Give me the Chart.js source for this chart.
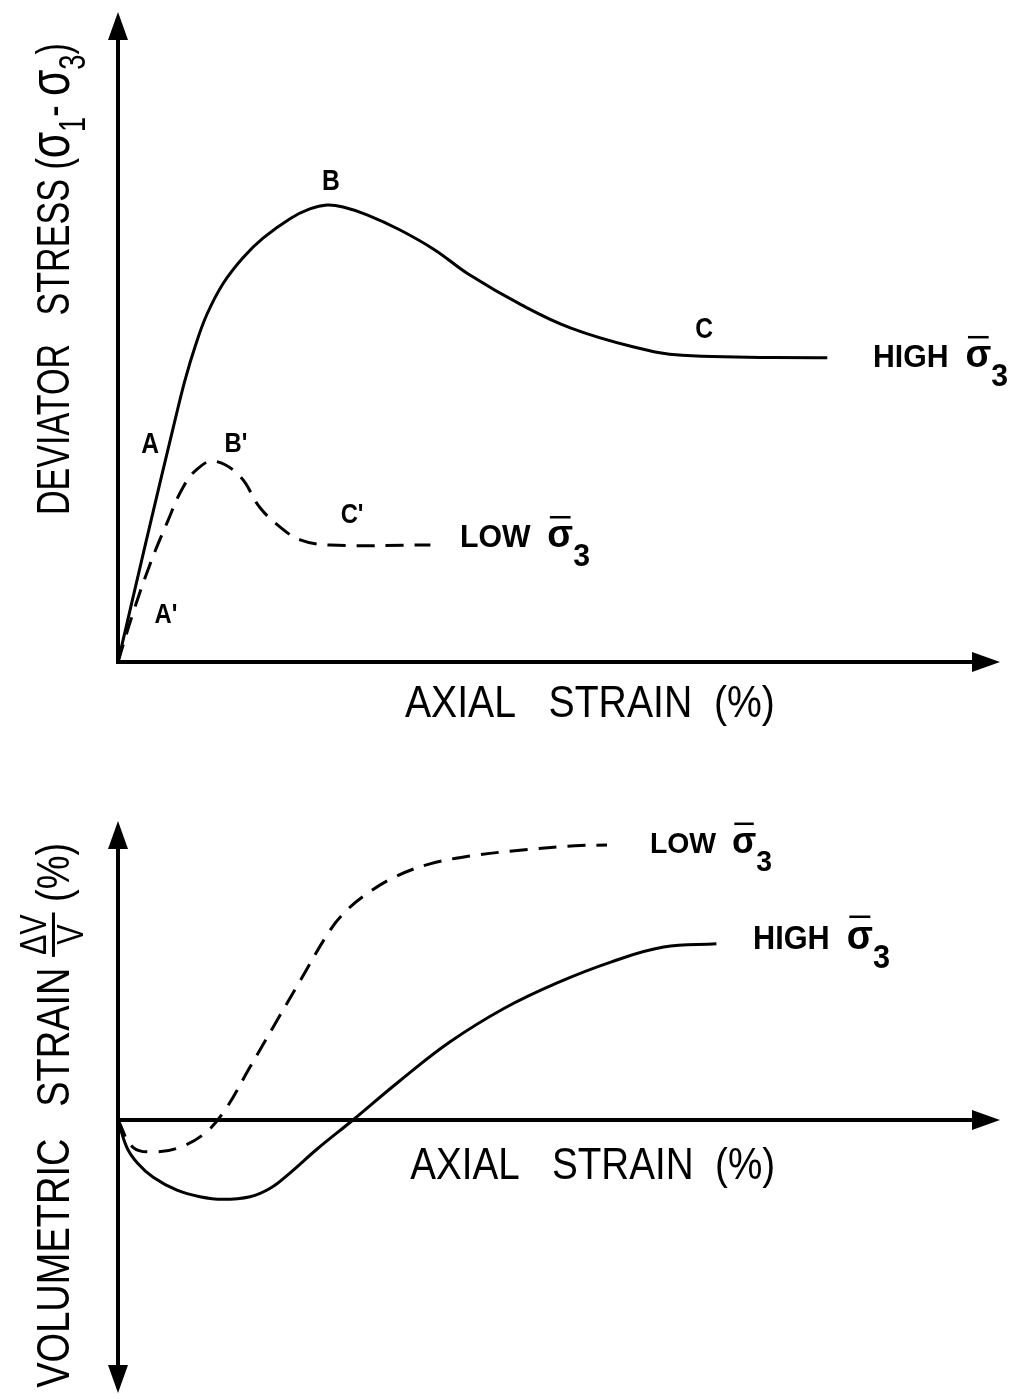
<!DOCTYPE html>
<html>
<head>
<meta charset="utf-8">
<script src="https://cdn.jsdelivr.net/npm/chart.js@4.4.0/dist/chart.umd.min.js"></script>
<style>
  html, body { margin: 0; padding: 0; background: #fff; }
  #wrap { position: relative; width: 1020px; height: 1399px; }
  canvas { position: absolute; left: 0; }
  #stressChart { top: 0; }
  #volChart { top: 740px; }
</style>
</head>
<body>
<div id="wrap">
  <canvas id="stressChart" width="1020" height="740"></canvas>
  <canvas id="volChart" width="1020" height="659"></canvas>
</div>
<script>
// deviator stress vs axial strain (schematic units)
const strainHigh = [0, 0.32, 0.648, 0.76, 0.88, 1.011, 1.193, 1.42, 1.648, 1.955, 2.18, 2.375, 2.557, 2.83, 3.2, 3.6, 3.98, 4.59, 5.14, 5.85, 6.41, 8.06];
const stressHigh = [0, 1.86, 3.72, 4.33, 4.87, 5.35, 5.82, 6.22, 6.52, 6.82, 6.97, 7.03, 7.00, 6.88, 6.65, 6.34, 5.97, 5.49, 5.14, 4.85, 4.72, 4.68];
const strainLow = [0, 0.17, 0.36, 0.557, 0.74, 0.91, 1.10, 1.39, 1.61, 1.84, 2.07, 2.41, 3.55];
const stressLow = [0, 0.75, 1.49, 2.14, 2.69, 2.98, 3.09, 2.85, 2.38, 2.08, 1.88, 1.80, 1.80];

// volumetric strain vs axial strain
const strainVolHigh = [0, 0.10, 0.22, 0.40, 0.67, 0.93, 1.19, 1.50, 1.73, 1.95, 2.26, 2.67, 3.20, 3.77, 4.39, 4.99, 5.60, 6.20, 6.80];
const volHigh = [0, -0.42, -0.66, -0.88, -1.08, -1.18, -1.22, -1.18, -1.05, -0.82, -0.45, 0, 0.60, 1.20, 1.72, 2.11, 2.43, 2.66, 2.71];
const strainVolLow = [0, 0.17, 0.42, 0.70, 0.99, 1.216, 1.50, 1.784, 2.068, 2.41, 2.58, 2.807, 3.148, 3.545, 4.00, 4.568, 5.193, 5.557];
const volLow = [0, -0.42, -0.49, -0.42, -0.20, 0.154, 0.815, 1.477, 2.138, 2.92, 3.20, 3.46, 3.74, 3.94, 4.06, 4.15, 4.22, 4.23];

const FONT = '"Liberation Sans", Arial, sans-serif';
const sig = (bar) => ({ t: 'σ', s: 1.25, bar: bar });

// annotations (anchor in data units)
const stressNotes = [
  { parts: [{ t: 'A' }], x: 0.364, y: 3.38, size: 29, align: 'center', sx: 0.85, bold: true },
  { parts: [{ t: 'B' }], x: 2.42, y: 7.42, size: 29, align: 'center', sx: 0.85, bold: true },
  { parts: [{ t: 'C' }], x: 6.66, y: 5.14, size: 29, align: 'center', sx: 0.85, bold: true },
  { parts: [{ t: "A'" }], x: 0.545, y: 0.755, size: 28, align: 'center', sx: 0.85, bold: true },
  { parts: [{ t: "B'" }], x: 1.34, y: 3.38, size: 28, align: 'center', sx: 0.85, bold: true },
  { parts: [{ t: "C'" }], x: 2.66, y: 2.29, size: 28, align: 'center', sx: 0.85, bold: true },
  { parts: [{ t: 'HIGH  ' }, sig(true), { t: '3', dy: 0.6 }], x: 8.58, y: 4.71, size: 31, w: 135, bold: true },
  { parts: [{ t: 'LOW  ' }, sig(true), { t: '3', dy: 0.6 }], x: 3.886, y: 1.94, size: 31, w: 130, bold: true },
  { parts: [{ t: 'AXIAL   STRAIN  (%)' }], x: 3.26, y: -0.6, size: 44, w: 370 },
  { parts: [{ t: 'DEVIATOR   STRESS (' }, sig(false), { t: '1', dy: 0.35, s: 0.8 }, { t: '- ' }, sig(false), { t: '3', dy: 0.35, s: 0.8 }, { t: ')' }],
    x: -0.557, y: 2.26, size: 46, w: 472, rot: true }
];
const volNotes = [
  { parts: [{ t: 'AXIAL   STRAIN  (%)' }], x: 3.32, y: -0.66, size: 44, w: 365 },
  { parts: [{ t: 'LOW  ' }, sig(true), { t: '3', dy: 0.6 }], x: 6.045, y: 4.28, size: 30, w: 122, bold: true },
  { parts: [{ t: 'HIGH  ' }, sig(true), { t: '3', dy: 0.6 }], x: 7.216, y: 2.82, size: 33, w: 137, bold: true },
  { parts: [{ t: 'VOLUMETRIC   STRAIN ' }, { frac: ['ΔV', 'V'] }, { t: ' (%)' }],
    x: -0.557, y: -4.12, size: 46, w: 545, rot: true }
];

function fontOf(size, bold) {
  return (bold ? 'bold ' : '') + size + 'px ' + FONT;
}

function partWidth(ctx, p, size, bold) {
  if (p.frac) {
    ctx.font = fontOf(size * 0.8, bold);
    return Math.max(ctx.measureText(p.frac[0]).width, ctx.measureText(p.frac[1]).width) + size * 0.1;
  }
  ctx.font = fontOf(size * (p.s || 1), bold);
  return ctx.measureText(p.t).width;
}

function drawParts(ctx, parts, size, bold) {
  let x = 0;
  for (const p of parts) {
    const w = partWidth(ctx, p, size, bold);
    if (p.frac) {
      ctx.textAlign = 'center';
      ctx.fillText(p.frac[0], x + w / 2, -0.5 * size);
      ctx.fillText(p.frac[1], x + w / 2, 0.3 * size);
      ctx.fillRect(x, -0.37 * size, w, 3);
      ctx.textAlign = 'left';
    } else {
      ctx.fillText(p.t, x, (p.dy || 0) * size);
      if (p.bar) ctx.fillRect(x + w * 0.1, -1.0 * size, w * 0.8, 2.5);
    }
    x += w;
  }
  return x;
}

function arrow(ctx, x, y, dir) {
  const L = 28, H = 10;
  ctx.beginPath();
  ctx.moveTo(x, y);
  if (dir === 'up') { ctx.lineTo(x - H, y + L); ctx.lineTo(x + H, y + L); }
  if (dir === 'down') { ctx.lineTo(x - H, y - L); ctx.lineTo(x + H, y - L); }
  if (dir === 'right') { ctx.lineTo(x - L, y - H); ctx.lineTo(x - L, y + H); }
  ctx.closePath();
  ctx.fill();
}

const sketch = {
  id: 'sketch',
  beforeDatasetsDraw(chart, args, opts) {
    const { ctx, chartArea: a, scales: { x, y } } = chart;
    const x0 = x.getPixelForValue(0), y0 = y.getPixelForValue(0);
    ctx.save();
    ctx.strokeStyle = '#000';
    ctx.fillStyle = '#000';
    ctx.lineWidth = 4;
    ctx.beginPath();
    ctx.moveTo(x0, opts.both ? a.bottom - 20 : y0 + 2);
    ctx.lineTo(x0, a.top + 20);
    ctx.moveTo(x0 - 2, y0);
    ctx.lineTo(a.right - 20, y0);
    ctx.stroke();
    arrow(ctx, x0, a.top, 'up');
    if (opts.both) arrow(ctx, x0, a.bottom, 'down');
    arrow(ctx, a.right + 2, y0, 'right');
    ctx.restore();
  },
  afterDatasetsDraw(chart, args, opts) {
    const { ctx, scales: { x, y } } = chart;
    ctx.save();
    ctx.fillStyle = '#000';
    ctx.textBaseline = 'alphabetic';
    ctx.textAlign = 'left';
    for (const n of opts.notes) {
      const px = x.getPixelForValue(n.x), py = y.getPixelForValue(n.y);
      let w = 0;
      for (const p of n.parts) w += partWidth(ctx, p, n.size, n.bold);
      const sx = n.w ? n.w / w : (n.sx || 1);
      ctx.save();
      if (n.rot) {
        ctx.translate(px, py);
        ctx.rotate(-Math.PI / 2);
      } else {
        const left = n.align === 'center' ? px - w * sx / 2 : px;
        ctx.translate(left, py + 0.358 * n.size);
      }
      ctx.scale(sx, 1);
      drawParts(ctx, n.parts, n.size, n.bold);
      ctx.restore();
    }
    ctx.restore();
  }
};

function pairs(xs, ys) {
  return xs.map((v, i) => ({ x: v, y: ys[i] }));
}

function lineSet(xs, ys, dashed) {
  return {
    data: pairs(xs, ys),
    borderColor: '#000',
    borderWidth: 3,
    borderDash: dashed ? [18, 11] : [],
    pointRadius: 0,
    fill: false,
    tension: 0.4
  };
}

function makeChart(id, sets, yMin, yMax, pad, notes, both) {
  return new Chart(document.getElementById(id), {
    type: 'line',
    data: { datasets: sets },
    options: {
      responsive: false,
      animation: false,
      events: [],
      layout: { padding: pad },
      scales: {
        x: { type: 'linear', min: 0, max: 10, display: false },
        y: { type: 'linear', min: yMin, max: yMax, display: false }
      },
      plugins: {
        legend: { display: false },
        tooltip: { enabled: false },
        sketch: { notes: notes, both: both }
      }
    },
    plugins: [sketch]
  });
}

makeChart('stressChart',
  [lineSet(strainHigh, stressHigh, false), lineSet(strainLow, stressLow, true)],
  0, 10, { left: 118, right: 22, top: 12, bottom: 78 }, stressNotes, false);

makeChart('volChart',
  [lineSet(strainVolHigh, volHigh, false), lineSet(strainVolLow, volLow, true)],
  -4.2, 4.6, { left: 118, right: 22, top: 81, bottom: 6 }, volNotes, true);
</script>
</body>
</html>
